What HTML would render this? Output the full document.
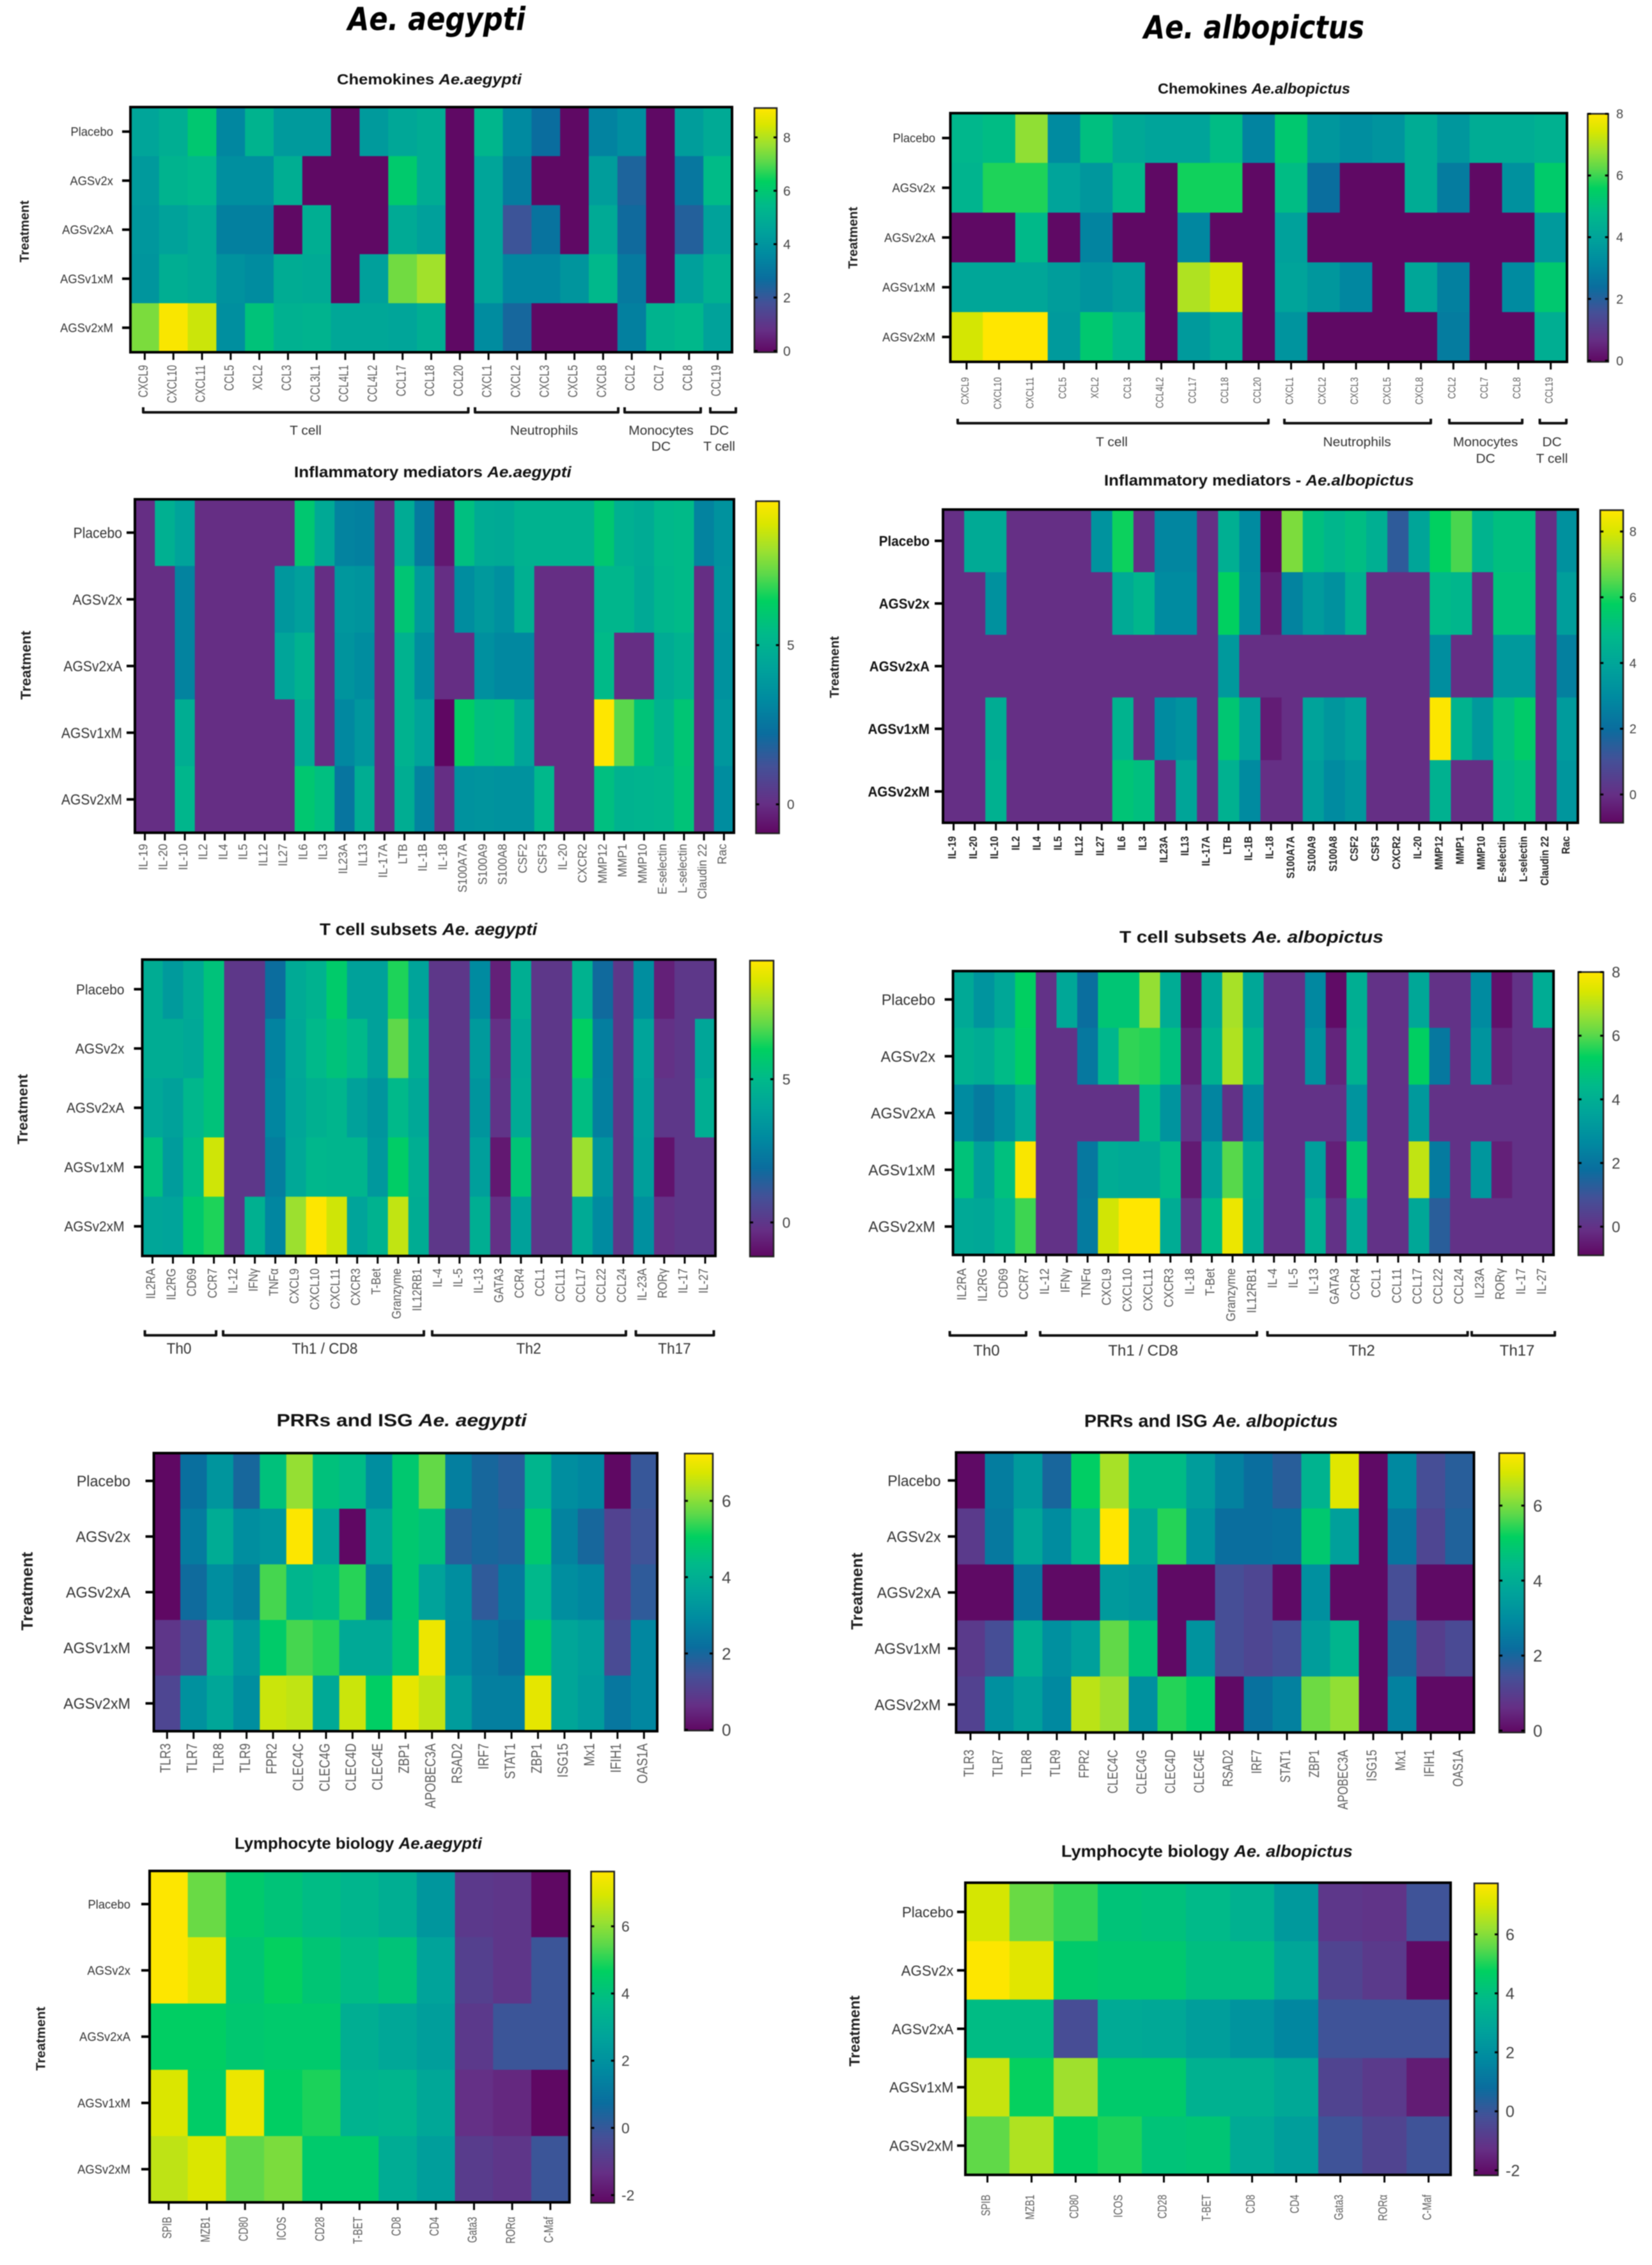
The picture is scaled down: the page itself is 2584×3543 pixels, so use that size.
<!DOCTYPE html>
<html lang="en">
<head>
<meta charset="utf-8">
<title>Heatmaps Ae. aegypti and Ae. albopictus</title>
<style>
html,body{margin:0;padding:0;background:#fff;}
svg{display:block;font-family:"Liberation Sans",sans-serif;filter:blur(0.7px);}
</style>
</head>
<body>
<svg id="figure" xmlns="http://www.w3.org/2000/svg" width="2584" height="3543" viewBox="0 0 2584 3543">
<defs>
<linearGradient id="cbGrad" x1="0" y1="1" x2="0" y2="0"></linearGradient>
</defs>
<rect x="0" y="0" width="2584" height="3543" fill="#ffffff"></rect>
</svg>
<script>
const treatments = ["Placebo","AGSv2x","AGSv2xA","AGSv1xM","AGSv2xM"];

const chemAegCategories = ["CXCL9","CXCL10","CXCL11","CCL5","XCL2","CCL3","CCL3L1","CCL4L1","CCL4L2","CCL17","CCL18","CCL20","CXCL1","CXCL2","CXCL3","CXCL5","CXCL8","CCL2","CCL7","CCL8","CCL19"];
const chemAegValues = [
[4.6,5.0,6.0,3.5,5.2,4.2,4.2,0,4.2,4.7,4.9,0,5.3,3.6,2.7,0,3.4,3.8,0,4.3,4.8],
[4.2,5.2,5.4,3.8,3.8,5.0,0,0,0,6.1,4.9,0,4.6,3.2,0,0,4.3,2.4,0,3.0,5.5],
[4.1,4.5,4.8,3.3,3.3,0,5.0,0,0,4.8,4.4,0,4.6,1.9,2.9,0,4.8,2.6,0,2.3,4.5],
[4.0,5.0,4.8,3.9,3.7,4.9,4.8,0,4.4,7.3,7.8,0,4.6,3.5,3.5,4.0,5.4,3.1,0,4.4,5.1],
[7.4,9.0,8.3,3.8,5.8,5.1,5.2,4.7,4.7,4.6,5.0,0,3.7,2.5,0,0,0,3.3,5.2,5.4,4.5]];
const chemAegTicks = [0,2,4,6,8];
const chemAegRange = [-0.05,9.1];

const chemAlbCategories = ["CXCL9","CXCL10","CXCL11","CCL5","XCL2","CCL3","CCL4L2","CCL17","CCL18","CCL20","CXCL1","CXCL2","CXCL3","CXCL5","CXCL8","CCL2","CCL7","CCL8","CCL19"];
const chemAlbValues = [
[4.7,4.9,6.7,3.2,5.0,4.2,4.0,4.0,4.9,3.0,5.3,3.6,3.3,3.5,4.3,3.6,4.3,4.3,4.5],
[4.6,5.8,5.8,4.0,3.6,4.8,0,5.7,5.7,0,4.9,2.4,0,0,4.3,2.8,0,3.4,5.4],
[0,0,4.8,0,3.0,0,0,3.1,0,0,3.9,0,0,0,0,0,0,0,3.7],
[4.1,4.1,4.1,3.8,3.5,3.8,0,7.0,7.4,0,4.0,3.6,3.1,0,4.1,2.9,0,3.2,5.3],
[7.4,8,8,3.7,5.3,4.7,0,3.7,4.2,0,3.5,0,0,0,0,2.8,0,0,4.4]];
const chemAlbTicks = [0,2,4,6,8];
const chemAlbRange = [-0.04,8];

const chemGroupLabels = [["T cell"],["Neutrophils"],["Monocytes","DC"],["DC","T cell"]];

const inflAegCategories = ["IL-19","IL-20","IL-10","IL2","IL4","IL5","IL12","IL27","IL6","IL3","IL23A","IL13","IL-17A","LTB","IL-1B","IL-18","S100A7A","S100A9","S100A8","CSF2","CSF3","IL-20","CXCR2","MMP12","MMP1","MMP10","E-selectin","L-selectin","Claudin 22","Rac"];
const inflAegValues = [
[0,4.9,4.3,0,0,0,0,0,6.0,4.6,3.0,2.9,0,4.7,2.7,-0.5,5.6,4.7,4.6,5.0,5.0,5.0,5.0,6.0,4.9,4.7,5.3,5.4,3.0,3.6],
[0,0,3.0,0,0,0,0,3.8,4.2,0,3.8,3.7,0,5.9,3.9,0,3.4,3.9,3.5,4.9,0,0,0,5.2,5.2,4.6,5.2,5.4,0,3.7],
[0,0,3.0,0,0,0,0,4.4,5.0,0,3.7,3.4,0,5.0,3.4,0,0,3.5,3.2,3.2,0,0,0,5.4,0,0,4.7,5.0,0,3.6],
[0,0,4.8,0,0,0,0,0,4.7,0,3.2,3.8,0,5.0,4.3,-0.9,6.3,5.6,5.7,4.4,0,0,0,9.5,7.2,5.8,5.0,5.9,0,3.8],
[0,0,5.2,0,0,0,0,0,6.0,5.6,2.5,4.8,0,4.8,3.0,0,3.6,3.7,3.6,3.6,5.3,0,0,5.6,5.0,5.1,5.2,5.8,0,3.4]];
const inflAegTicks = [0,5];
const inflAegRange = [-0.91,9.52];

const inflAlbCategories = ["IL-19","IL-20","IL-10","IL2","IL4","IL5","IL12","IL27","IL6","IL3","IL23A","IL13","IL-17A","LTB","IL-1B","IL-18","S100A7A","S100A9","S100A8","CSF2","CSF3","CXCR2","IL-20","MMP12","MMP1","MMP10","E-selectin","L-selectin","Claudin 22","Rac"];
const inflAlbValues = [
[0,4.2,4.2,0,0,0,0,3.3,5.9,0,2.8,2.8,0,4.4,3.0,-0.8,6.9,5.1,4.7,5.0,4.4,1.4,4.0,5.8,6.4,4.6,5.1,5.1,0,3.2],
[0,0,3.2,0,0,0,0,0,4.2,4.7,3.0,3.0,0,5.8,3.1,-0.4,2.7,3.6,3.2,4.5,0,0,0,4.9,4.7,0,5.2,5.2,0,3.7],
[0,0,0,0,0,0,0,0,0,0,0,0,0,3.5,0,0,0,0,0,0,0,0,0,3.1,0,0,3.5,3.5,0,2.6],
[0,0,4.3,0,0,0,0,0,4.6,0,3.0,3.3,0,5.4,3.8,-0.4,0,3.9,3.4,3.8,0,0,0,8.6,4.6,3.5,5.0,5.6,0,3.6],
[0,0,4.5,0,0,0,0,0,5.3,5.1,0,4.0,0,4.5,3.0,0,0,3.7,3.0,3.4,0,0,0,4.5,0,0,4.8,5.1,0,3.4]];
const inflAlbTicks = [0,2,4,6,8];
const inflAlbRange = [-0.86,8.65];

const tcellAegCategories = ["IL2RA","IL2RG","CD69","CCR7","IL-12","IFNγ","TNFα","CXCL9","CXCL10","CXCL11","CXCR3","T-Bet","Granzyme","IL12RB1","IL-4","IL-5","IL-13","GATA3","CCR4","CCL1","CCL11","CCL17","CCL22","CCL24","IL-23A","RORγ","IL-17","IL-27"];
const tcellAegValues = [
[4.4,3.6,4.3,5.4,0,0,1.9,4.3,4.7,5.8,3.9,3.9,6.3,4.0,0,0,3.0,-0.6,4.5,0,0,4.7,1.8,0,3.1,-0.6,0,0],
[4.4,4.4,4.2,5.4,0,0,2.7,4.2,5.0,5.4,5.0,3.9,6.9,4.5,0,0,3.6,-0.2,4.2,0,0,6.0,2.5,0,4.0,-0.2,0,4.1],
[4.2,3.9,4.9,5.4,0,0,2.8,4.1,4.6,4.8,3.9,3.4,5.0,4.2,0,0,3.4,-0.1,4.3,0,0,5.2,2.6,0,3.9,0,0,4.5],
[5.3,3.7,5.2,8.3,0,0,2.5,4.2,4.9,4.8,4.8,3.5,5.9,4.5,0,0,3.8,-0.8,5.5,0,0,7.6,3.4,0,3.8,-0.9,0,0],
[4.1,4.0,5.7,6.3,0,4.6,2.8,7.6,9.1,8.3,4.0,4.7,8.1,4.4,0,0,4.5,-0.2,3.9,0,0,4.3,3.0,0,3.2,-0.2,0,0]];
const tcellAegTicks = [0,5];
const tcellAegRange = [-1.19,9.14];

const tcellAlbCategories = ["IL2RA","IL2RG","CD69","CCR7","IL-12","IFNγ","TNFα","CXCL9","CXCL10","CXCL11","CXCR3","IL-18","T-Bet","Granzyme","IL12RB1","IL-4","IL-5","IL-13","GATA3","CCR4","CCL1","CCL11","CCL17","CCL22","CCL24","IL23A","RORγ","IL-17","IL-27"];
const tcellAlbValues = [
[3.8,3.0,3.7,5.3,0,3.7,1.8,4.9,4.9,6.6,3.9,-0.7,3.7,6.8,3.7,0,0,2.6,-0.8,4.0,0,0,3.7,0,0,2.7,-0.7,0,3.9],
[4.1,3.9,4.5,5.2,0,0,2.1,4.3,5.7,5.6,4.7,-0.4,4.1,6.9,4.2,0,0,2.9,-0.3,4.1,0,0,5.3,2.1,0,3.0,-0.3,0,0],
[2.7,2.2,2.8,3.8,0,0,0,0,0,4.5,3.0,0,2.5,0,2.7,0,0,0,0,3.0,0,0,3.2,0,0,0,0,0,0],
[4.8,3.4,4.7,7.9,0,0,2.1,3.9,3.8,3.8,4.5,-0.5,3.5,6.0,4.0,0,0,3.4,-0.4,5.0,0,0,7.1,2.2,0,3.1,-0.4,0,0],
[3.8,3.7,4.3,5.8,0,0,2.2,7.3,8,8,3.9,0,4.5,7.7,3.9,0,0,4.0,0,3.8,0,0,3.7,1.3,0,0,0,0,0]];
const tcellAlbTicks = [0,2,4,6,8];
const tcellAlbRange = [-0.9,8];

const tcellGroupLabels = [["Th0"],["Th1 / CD8"],["Th2"],["Th17"]];

const prrAegCategories = ["TLR3","TLR7","TLR8","TLR9","FPR2","CLEC4C","CLEC4G","CLEC4D","CLEC4E","ZBP1","APOBEC3A","RSAD2","IRF7","STAT1","ZBP1","ISG15","Mx1","IFIH1","OAS1A"];
const prrAegValues = [
[0,2.2,3.2,2.0,4.6,6.1,4.6,4.4,3.0,4.8,5.7,2.6,2.0,1.8,4.2,3.0,2.8,0,1.6],
[0,2.5,3.9,3.0,3.2,7.2,3.7,0,3.6,4.8,4.6,1.8,2.0,1.9,4.8,2.7,2.0,1.1,1.5],
[0,2.1,3.0,2.6,5.5,4.2,4.4,5.3,2.7,4.8,3.6,3.0,1.7,2.4,4.3,3.0,2.8,1.1,1.7],
[0.8,1.3,4.1,3.3,4.9,5.5,5.3,3.8,3.8,4.7,7.0,2.9,2.5,2.2,4.9,3.7,3.5,1.3,2.8],
[1.2,3.1,3.7,3.0,6.6,6.5,3.8,6.6,5.0,6.9,6.5,3.4,2.6,2.6,6.9,3.7,3.4,2.4,2.8]];
const prrAegTicks = [0,2,4,6];
const prrAegRange = [-0.02,7.24];

const prrAlbCategories = ["TLR3","TLR7","TLR8","TLR9","FPR2","CLEC4C","CLEC4G","CLEC4D","CLEC4E","RSAD2","IRF7","STAT1","ZBP1","APOBEC3A","ISG15","Mx1","IFIH1","OAS1A"];
const prrAlbValues = [
[0,2.6,3.4,2.0,5.1,6.4,4.5,4.5,3.5,2.7,2.2,1.8,4.2,7.0,0,2.9,1.4,1.8],
[0.9,2.5,3.8,3.0,4.4,7.4,3.8,5.4,3.2,2.2,2.2,2.3,4.9,3.6,0,2.4,1.2,1.9],
[0,0,2.4,0,0,3.4,3.3,0,0,1.4,1.2,0,3.1,0,0,1.4,0,0],
[0.9,1.4,4.1,3.1,3.6,5.8,4.8,0,3.2,1.4,1.2,1.4,3.5,4.3,0,2.0,1.0,1.3],
[1.1,3.1,3.6,2.9,6.6,6.3,3.1,5.4,5.0,0,2.3,2.7,5.9,6.2,0,2.7,0,0]];
const prrAlbTicks = [0,2,4,6];
const prrAlbRange = [-0.05,7.4];

const lymphCategories = ["SPIB","MZB1","CD80","ICOS","CD28","T-BET","CD8","CD4","Gata3","RORα","C-Maf"];
const lymphAegValues = [
[7.6,5.6,4.4,4.1,3.8,3.5,3.2,2.2,-1.0,-1.1,-2.2],
[7.6,7.1,4.2,4.7,4.2,3.8,4.1,2.7,-0.8,-1.1,-0.1],
[4.6,4.6,4.3,4.4,4.4,3.2,2.9,2.5,-1.0,-0.1,-0.1],
[7.0,4.5,7.3,4.6,4.9,3.4,3.5,2.9,-1.3,-1.5,-2.2],
[6.6,7.0,5.5,5.8,4.4,4.4,3.1,2.5,-0.9,-1.1,-0.1]];
const lymphAegTicks = [-2,0,2,4,6];
const lymphAegRange = [-2.23,7.63];

const lymphAlbValues = [
[7.0,5.7,5.2,4.2,4.1,3.8,3.4,2.4,-1.0,-1.1,-0.1],
[7.7,7.2,4.5,4.4,4.4,4.0,4.0,2.9,-0.6,-0.9,-2.1],
[3.9,3.9,-0.3,3.1,3.0,2.6,2.2,1.7,-0.1,-0.1,-0.1],
[6.8,4.8,6.3,4.5,4.5,3.4,3.4,3.0,-0.6,-0.9,-1.7],
[5.6,6.5,4.7,5.0,4.2,4.3,3.1,2.6,-0.1,-0.6,-0.1]];
const lymphAlbTicks = [-2,0,2,4,6];
const lymphAlbRange = [-2.17,7.73];

const NS = "http://www.w3.org/2000/svg";
const svg = document.getElementById("figure");

const paletteStops = [
[0.00,95,7,98],[0.09,101,47,133],[0.20,68,80,151],[0.30,10,109,158],[0.40,0,138,160],
[0.50,0,163,154],[0.60,0,185,138],[0.70,0,208,96],[0.78,92,216,74],[0.85,155,224,48],
[0.93,216,230,0],[1.00,255,230,0]];

function colorAt(t){
  t = Math.max(0, Math.min(1, t));
  for (let i = 1; i < paletteStops.length; i++) {
    const a = paletteStops[i-1], b = paletteStops[i];
    if (t <= b[0]) {
      const f = (t - a[0]) / (b[0] - a[0]);
      return "rgb(" + [1,2,3].map(k => Math.round(a[k] + (b[k]-a[k])*f)).join(",") + ")";
    }
  }
  return "rgb(255,230,0)";
}

const grad = document.getElementById("cbGrad");
paletteStops.forEach(s => {
  const st = document.createElementNS(NS, "stop");
  st.setAttribute("offset", s[0]);
  st.setAttribute("stop-color", "rgb(" + s[1] + "," + s[2] + "," + s[3] + ")");
  grad.appendChild(st);
});

function make(tag, attrs, parent){
  const el = document.createElementNS(NS, tag);
  for (const k in attrs) el.setAttribute(k, attrs[k]);
  (parent || svg).appendChild(el);
  return el;
}

function fitWidth(el, x, y, target){
  const len = el.getComputedTextLength();
  el.setAttribute("transform", "translate(" + x + "," + y + ") scale(" + (target/len) + ",1)");
}

function drawPanel(d, L){
  const g = make("g", {});
  
  

  const colW = (L.plot[2]-L.plot[0]) / d.categories.length;
  const rowH = (L.plot[3]-L.plot[1]) / treatments.length;
  const xAt = i => L.plot[0] + i*colW;
  const yAt = r => L.plot[1] + r*rowH;
  const tOf = v => (v - d.range[0]) / (d.range[1] - d.range[0]);
  const cbY = v => L.cb[3] - tOf(v) * (L.cb[3]-L.cb[1]);

  // title
  const title = make("text", {x:0, y:0, "font-size":L.titleSize, "font-weight":"bold", fill:"#111"}, g);
  
  
  const ts1 = make("tspan", {}, title);
  ts1.textContent = d.title;
  const ts2 = make("tspan", {"font-style":"italic"}, title);
  ts2.textContent = d.species;
  fitWidth(title, L.title[0], L.title[2] + L.titleSize*0.36, L.title[1]-L.title[0]);

  // cells
  d.values.forEach((row, r) => {
    row.forEach((v, c) => {
      const cell = make("rect", {x:xAt(c), y:yAt(r), width:colW+0.6, height:rowH+0.6, fill:colorAt(tOf(v))}, g);
      
      
    });
  });

  // frame
  const frame = make("rect", {x:L.plot[0], y:L.plot[1], width:L.plot[2]-L.plot[0], height:L.plot[3]-L.plot[1], fill:"none", stroke:"#000", "stroke-width":4}, g);
  
  

  // y axis
  treatments.forEach((name, r) => {
    const cy = yAt(r) + rowH/2;
    const tick = make("line", {x1:L.plot[0]-13, x2:L.plot[0], y1:cy, y2:cy, stroke:"#000", "stroke-width":4}, g);
    
    
    const lab = make("text", {x:0, y:0, "font-size":L.rowSize, "text-anchor":"end", fill:L.bold?"#111":"#333", "font-weight":L.bold?"bold":"normal",
      transform:"translate(" + L.rowRight + "," + (cy + L.rowSize*0.36) + ") scale(" + L.rowK + ",1)"}, g);
    
    
    lab.textContent = name;
  });

  // x axis
  d.categories.forEach((name, i) => {
    const cx = xAt(i) + colW/2;
    const tick = make("line", {x1:cx, x2:cx, y1:L.plot[3], y2:L.plot[3]+12, stroke:"#000", "stroke-width":3}, g);
    
    
    const bx = cx + L.xSize*0.36 - 3;
    const lab = make("text", {x:0, y:0, "font-size":L.xSize, "text-anchor":"end", fill:L.bold?"#222":"#5a5a5a", "font-weight":L.bold?"bold":"normal",
      transform:"translate(" + bx + "," + L.xTop + ") rotate(-90) scale(" + L.xK + ",1)"}, g);
    
    
    lab.textContent = name;
  });

  // treatment axis title
  if (L.axis) {
    const at = make("text", {x:0, y:0, "font-size":L.axis[3], "font-weight":"bold", "text-anchor":"middle", fill:"#222"}, g);
    
    
    at.textContent = "Treatment";
    const len = at.getComputedTextLength();
    at.setAttribute("transform", "translate(" + (L.axis[0]+L.axis[3]*0.36) + "," + L.axis[1] + ") rotate(-90) scale(" + (L.axis[2]/len) + ",1)");
  }

  // colour bar
  const bar = make("rect", {x:L.cb[0], y:L.cb[1], width:L.cb[2]-L.cb[0], height:L.cb[3]-L.cb[1], fill:"url(#cbGrad)", stroke:"#222", "stroke-width":2.5}, g);
  
  
  d.ticks.forEach(v => {
    const y = cbY(v);
    const t1 = make("line", {x1:L.cb[0], x2:L.cb[0]+5, y1:y, y2:y, stroke:"#000", "stroke-width":3}, g);
    
    
    const t2 = make("line", {x1:L.cb[2]-5, x2:L.cb[2], y1:y, y2:y, stroke:"#000", "stroke-width":3}, g);
    
    
    const lab = make("text", {x:L.cbLabelX, y:y + L.cbSize*0.36, "font-size":L.cbSize, fill:"#444"}, g);
    
    
    lab.textContent = v;
  });

  // group brackets
  if (L.brackets) {
    L.brackets.forEach((b, i) => {
      const p = make("path", {d:"M" + b[0] + " " + L.bracketTop + " L" + b[0] + " " + L.bracketY + " L" + b[1] + " " + L.bracketY + " L" + b[1] + " " + L.bracketTop, fill:"none", stroke:"#111", "stroke-width":4, "stroke-linejoin":"round"}, g);
      
      
      d.groups[i].forEach((line, li) => {
        const t = make("text", {x:0, y:0, "font-size":L.groupSize, "text-anchor":"middle", fill:"#333",
          transform:"translate(" + b[2] + "," + (L.groupY[li] + L.groupSize*0.36) + ") scale(" + L.groupK + ",1)"}, g);
        
        
        t.textContent = line;
      });
    });
  }
}

function heading(text, x0, x1, baseline, size){
  const h = make("text", {x:0, y:0, "font-size":size, "font-weight":"bold", "font-style":"italic", fill:"#000", style:'font-family:"DejaVu Sans",sans-serif'});
  
  
  h.textContent = text;
  fitWidth(h, x0, baseline, x1-x0);
}

heading("Ae. aegypti", 544, 822, 47, 50);
heading("Ae. albopictus", 1789, 2134, 60, 50);

drawPanel({categories:chemAegCategories, values:chemAegValues, ticks:chemAegTicks, range:chemAegRange, groups:chemGroupLabels, title:"Chemokines ", species:"Ae.aegypti"},
 {plot:[204,167.5,1145,551], cb:[1180,169,1215,551], cbLabelX:1225, cbSize:21, title:[527,816,123.6], titleSize:23, rowRight:177, rowSize:19, rowK:0.97, xSize:21, xK:0.75, xTop:571, axis:[38,362,97,20],
  brackets:[[224,732.5,478],[743,967,851],[977,1096,1034],[1111,1151,1125]], bracketTop:637, bracketY:645, groupY:[673,698], groupSize:20, groupK:1.05});

drawPanel({categories:chemAlbCategories, values:chemAlbValues, ticks:chemAlbTicks, range:chemAlbRange, groups:chemGroupLabels, title:"Chemokines  ", species:"Ae.albopictus"},
 {plot:[1486.5,177,2451,566], cb:[2483.5,178,2515.6,566], cbLabelX:2528, cbSize:20, title:[1811,2112,138], titleSize:23, rowRight:1463, rowSize:19, rowK:0.97, xSize:17, xK:0.78, xTop:590, axis:[1334,372,97,20],
  brackets:[[1498,1984,1739],[2009,2238,2122.6],[2267,2381,2323.6],[2408.5,2450,2427.5]], bracketTop:655, bracketY:662, groupY:[691,717], groupSize:20, groupK:1.05});

drawPanel({categories:inflAegCategories, values:inflAegValues, ticks:inflAegTicks, range:inflAegRange, title:"Inflammatory mediators ", species:"Ae.aegypti"},
 {plot:[211,781,1148,1302.6], cb:[1182.5,784,1218.7,1303.5], cbLabelX:1231, cbSize:21, title:[460,894,738], titleSize:24, rowRight:191, rowSize:23, rowK:0.92, xSize:19, xK:0.95, xTop:1320, axis:[40,1040.5,108,22]});

drawPanel({categories:inflAlbCategories, values:inflAlbValues, ticks:inflAlbTicks, range:inflAlbRange, title:"Inflammatory mediators - ", species:"Ae.albopictus"},
 {plot:[1475,797,2468,1287], cb:[2503,798,2539,1287], cbLabelX:2548.6, cbSize:20, title:[1727,2212,751], titleSize:24, rowRight:1454, rowSize:22, rowK:0.94, xSize:18, xK:0.85, xTop:1308, bold:true, axis:[1305,1043.6,97,20]});

drawPanel({categories:tcellAegCategories, values:tcellAegValues, ticks:tcellAegTicks, range:tcellAegRange, groups:tcellGroupLabels, title:"T cell subsets ", species:"Ae. aegypti"},
 {plot:[222.5,1501,1119,1964.6], cb:[1173,1502.6,1210,1965.5], cbLabelX:1223.6, cbSize:23, title:[500,840.5,1453], titleSize:26, rowRight:194.5, rowSize:22, rowK:0.95, xSize:20, xK:0.86, xTop:1984, axis:[35,1735,110,22],
  brackets:[[226.6,338,280],[349,663,508],[676,979,827],[994.6,1116.5,1055]], bracketTop:2080.7, bracketY:2088.7, groupY:[2109], groupSize:24, groupK:0.94});

drawPanel({categories:tcellAlbCategories, values:tcellAlbValues, ticks:tcellAlbTicks, range:tcellAlbRange, groups:tcellGroupLabels, title:"T cell subsets ", species:"Ae. albopictus"},
 {plot:[1490.6,1519,2430,1963], cb:[2468.7,1520.5,2508,1963.6], cbLabelX:2521, cbSize:24, title:[1751,2164,1465], titleSize:26, rowRight:1463, rowSize:24, rowK:0.97, xSize:20, xK:0.9, xTop:1984,
  brackets:[[1485.6,1605,1543],[1627,1966,1788],[1982.5,2295.6,2130],[2302,2432,2373]], bracketTop:2082, bracketY:2089, groupY:[2112], groupSize:24, groupK:1.0});

drawPanel({categories:prrAegCategories, values:prrAegValues, ticks:prrAegTicks, range:prrAegRange, title:"PRRs and ISG ", species:"Ae. aegypti"},
 {plot:[240.6,2273,1028,2708], cb:[1071,2273.7,1115,2707], cbLabelX:1129, cbSize:26, title:[432.6,824,2221], titleSize:28, rowRight:204, rowSize:24, rowK:0.97, xSize:23, xK:0.82, xTop:2727, axis:[42,2489,123,25]});

drawPanel({categories:prrAlbCategories, values:prrAlbValues, ticks:prrAlbTicks, range:prrAlbRange, title:"PRRs and ISG ", species:"Ae. albopictus"},
 {plot:[1495.5,2272,2305.5,2710], cb:[2345,2273,2384.6,2710], cbLabelX:2398, cbSize:26, title:[1696,2093,2222], titleSize:28, rowRight:1471.6, rowSize:24, rowK:0.96, xSize:22, xK:0.79, xTop:2737, axis:[1340,2489,120.5,25]});

drawPanel({categories:lymphCategories, values:lymphAegValues, ticks:lymphAegTicks, range:lymphAegRange, title:"Lymphocyte biology ", species:"Ae.aegypti"},
 {plot:[234,2926.6,890.7,3445], cb:[924.5,2927.5,960.8,3445.8], cbLabelX:972, cbSize:23, title:[367,754,2883], titleSize:25, rowRight:204, rowSize:19, rowK:0.97, xSize:20, xK:0.75, xTop:3467.6, axis:[63,3189,100,20.7]});

drawPanel({categories:lymphCategories, values:lymphAlbValues, ticks:lymphAlbTicks, range:lymphAlbRange, title:"Lymphocyte biology ", species:"Ae. albopictus"},
 {plot:[1510,2945,2269,3402], cb:[2306,2946,2343,3402.7], cbLabelX:2355, cbSize:25, title:[1660,2116,2895], titleSize:26, rowRight:1491.4, rowSize:23, rowK:0.97, xSize:19, xK:0.77, xTop:3433, axis:[1336,3177,111,23]});
</script>
</body>
</html>
